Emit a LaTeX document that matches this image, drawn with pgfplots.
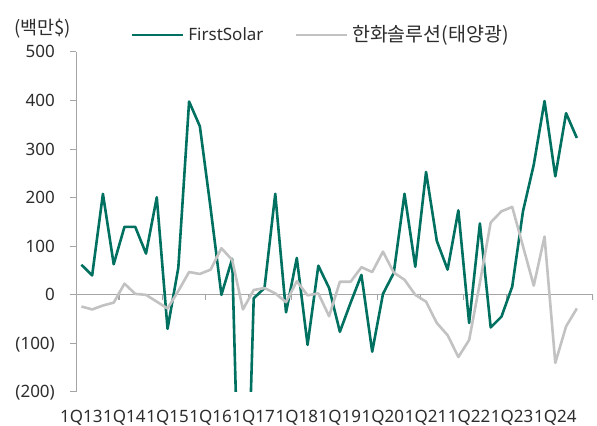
\documentclass[border=0pt]{standalone}
\usepackage{fontspec}
\setmainfont{Noto Sans}
\newfontfamily\kr{Noto Sans CJK KR}
\usepackage{pgfplots}
\usepackage{pgfplotstable}
\pgfplotsset{compat=1.18}
\definecolor{fsgreen}{RGB}{0,112,96}
\definecolor{hwgray}{RGB}{194,194,194}
\definecolor{axgray}{RGB}{165,165,165}
\definecolor{txt}{RGB}{45,45,45}
\pgfplotstableread{
i fs hw
0 62 -24
1 40 -30
2 208 -22
3 63 -16
4 140 23
5 140 2
6 85 0
7 201 -14
8 -70 -28
9 56 8
10 398 47
11 347 43
12 178 52
13 0 96
14 74 72
15 -750 -30
16 -7 10
17 14 14
18 208 3
19 -36 -15
20 76 28
21 -103 -1
22 60 3
23 14 -44
24 -76 27
25 -16 27
26 41 57
27 -117 47
28 2 89
29 45 46
30 208 31
31 58 0
32 253 -14
33 111 -58
34 52 -83
35 174 -128
36 -58 -93
37 147 25
38 -67 149
39 -45 172
40 17 181
41 172 100
42 268 19
43 399 120
44 244 -140
45 374 -65
46 323 -28
}\datatable
\begin{document}
\fontsize{17bp}{20bp}\selectfont
\begin{tikzpicture}
\useasboundingbox (0,0) rectangle (597bp,426bp);
\begin{axis}[
  at={(76bp,34bp)}, anchor=south west,
  scale only axis, width=517bp, height=340bp,
  xmin=-0.5, xmax=47.5, ymin=-200, ymax=500,
  axis y line*=left, axis x line*=bottom,
  x axis line style={draw=none},
  y axis line style={draw=axgray, line width=1bp},
  xtick={0,4,...,44},
  xticklabels={1Q13,1Q14,1Q15,1Q16,1Q17,1Q18,1Q19,1Q20,1Q21,1Q22,1Q23,1Q24},
  xtick style={draw=none},
  ytick={-200,-100,...,500},
  yticklabels={(200),(100),0,100,200,300,400,500},
  ytick style={draw=axgray, line width=1bp},
  tick align=outside, major tick length=6bp,
  tick label style={font=\fontsize{17bp}{20bp}\selectfont, text=txt},
  yticklabel style={anchor=base east, inner sep=0pt, yshift=-6bp, xshift=-15bp},
  xticklabel style={anchor=base, inner sep=0pt, yshift=-24.5bp},
  legend columns=2,
  legend style={at={(axis description cs:0.106,1.050)}, anchor=west, draw=none, fill=none,
    inner sep=0pt, outer sep=0pt, font=\fontsize{17bp}{20bp}\selectfont, text=txt,
    nodes={inner sep=0pt},
    /tikz/every odd column/.append style={column sep=4bp},
    /tikz/every even column/.append style={column sep=31bp}},
  legend image code/.code={\draw[#1] (0bp,0bp) -- (51bp,0bp);},
]
\addplot[axgray, line width=1.2bp, no marks, forget plot] coordinates {(-0.5,0) (47.5,0)};
\addplot[axgray, line width=1.2bp, ycomb, no marks, forget plot] coordinates {
(3.5,-10) (7.5,-10) (11.5,-10) (15.5,-10) (19.5,-10) (23.5,-10)
(27.5,-10) (31.5,-10) (35.5,-10) (39.5,-10) (43.5,-10) (47.5,-10)};
\addplot[fsgreen, line width=2.6bp, line join=round] table[x=i,y=fs]{\datatable};
\addlegendentry{FirstSolar}
\addplot[hwgray, line width=2.6bp, line join=round] table[x=i,y=hw]{\datatable};
\addlegendentry{{\kr\fontsize{19.5bp}{20bp}\selectfont 한화솔루션(태양광)}}
\end{axis}
\node[anchor=west, inner sep=0pt, text=txt] at (14bp,397bp) {\kr\fontsize{18.5bp}{20bp}\selectfont (백만\$)};
\end{tikzpicture}
\end{document}
